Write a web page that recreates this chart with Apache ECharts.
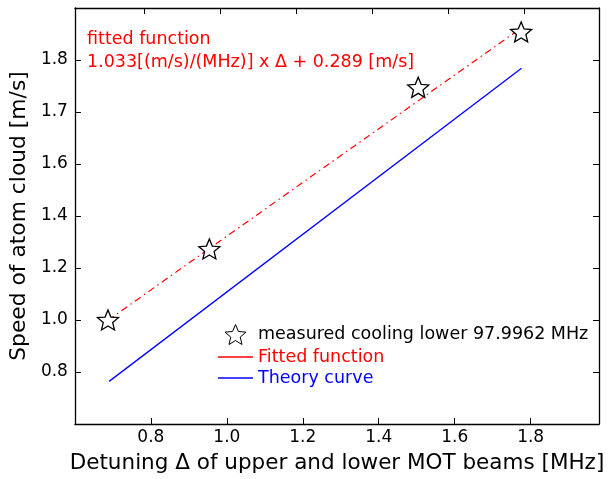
<!DOCTYPE html>
<html><head><meta charset="utf-8">
<script src="https://cdn.jsdelivr.net/npm/echarts@6/dist/echarts.min.js"></script>
<style>html,body{margin:0;padding:0;background:#fff}#c{width:608px;height:479px}</style>
</head><body><div id="c"></div>
<script>
// ---- data ----
const measX = [0.687, 0.954, 1.504, 1.775];
const measY = [1.000, 1.273, 1.895, 2.108];
const fitX = [0.687, 1.775];
const fitY = [0.999, 2.123];
const theoryX = [0.690, 1.776];
const theoryY = [0.764, 1.968];
const yTickValues = [0.8, 1.0, 1.2, 1.4, 1.6, 1.8, 2.0];
const yTickLabels = ['0.8', '1.0', '1.2', '1.4', '1.6', '1.7', '1.8'];
const topTickValues = [0.783, 0.983, 1.183, 1.383, 1.583, 1.783];
const annotation = ['fitted function', '1.033[(m/s)/(MHz)] x \u0394 + 0.289 [m/s]'];

const F = 'DejaVu Sans';
const STAR = 'path://M0,-10 L2.645,-3.641 L9.511,-3.09 L4.28,1.391 L5.878,8.09 L0,4.5 L-5.878,8.09 L-4.28,1.391 L-9.511,-3.09 L-2.645,-3.641 Z';
const LINEICON = 'path://M0,0 L35,0 L35,1.4 L0,1.4 Z';
const zip = (a, b) => a.map((v, i) => [v, b[i]]);

const axLine = {show: true, lineStyle: {color: '#000', width: 1.3}};
const chart = echarts.init(document.getElementById('c'), null, {renderer: 'canvas'});
chart.setOption({
  animation: false,
  backgroundColor: '#fff',
  textStyle: {fontFamily: F},
  grid: {left: 74, top: 8, right: 9, bottom: 52, containLabel: false},
  title: {
    text: annotation.join('\n'), left: 82, top: 23,
    textStyle: {fontFamily: F, fontSize: 17.5, fontWeight: 'normal', color: '#ff0000', lineHeight: 23}
  },
  legend: {
    orient: 'vertical', left: 213, top: 319, itemWidth: 35, itemHeight: 20, itemGap: 3,
    textStyle: {fontFamily: F, fontSize: 17.5},
    data: [
      {name: 'measured cooling lower 97.9962 MHz', icon: STAR, textStyle: {color: '#000'},
        itemStyle: {color: '#fff', borderColor: '#000', borderWidth: 1}},
      {name: 'Fitted function', icon: LINEICON, textStyle: {color: '#ff0000'}, itemStyle: {color: '#ff0000', borderWidth: 0}},
      {name: 'Theory curve', icon: LINEICON, textStyle: {color: '#0000ff'}, itemStyle: {color: '#0000ff', borderWidth: 0}}
    ]
  },
  xAxis: [{
    type: 'value', min: 0.6, max: 1.98, interval: 0.2, position: 'bottom',
    name: 'Detuning \u0394 of upper and lower MOT beams [MHz]', nameLocation: 'middle', nameGap: 28,
    nameTextStyle: {fontFamily: F, fontSize: 21.5, color: '#000'},
    axisLine: axLine, splitLine: {show: false},
    axisTick: {show: true, inside: true, length: 6, lineStyle: {color: '#000', width: 1}},
    axisLabel: {fontFamily: F, fontSize: 17, color: '#000', margin: 5, showMinLabel: false, showMaxLabel: false,
      formatter: v => v.toFixed(1)}
  }, {
    type: 'value', min: 0.6, max: 1.98, position: 'top',
    axisLine: axLine, splitLine: {show: false},
    axisTick: {show: true, inside: true, length: 6, customValues: topTickValues, lineStyle: {color: '#000', width: 1}},
    axisLabel: {show: false}
  }],
  yAxis: [{
    type: 'value', min: 0.6, max: 2.2, interval: 0.2, position: 'left',
    name: 'Speed of atom cloud [m/s]', nameLocation: 'middle', nameGap: 42,
    nameTextStyle: {fontFamily: F, fontSize: 21.8, color: '#000'},
    axisLine: axLine, splitLine: {show: false},
    axisTick: {show: true, inside: true, length: 6, lineStyle: {color: '#000', width: 1}},
    axisLabel: {fontFamily: F, fontSize: 17, color: '#000', margin: 7, showMinLabel: false, showMaxLabel: false,
      formatter: v => { const i = yTickValues.findIndex(t => Math.abs(t - v) < 1e-6); return i >= 0 ? yTickLabels[i] : ''; }}
  }, {
    type: 'value', min: 0.6, max: 2.2, interval: 0.2, position: 'right',
    axisLine: axLine, splitLine: {show: false},
    axisTick: {show: true, inside: true, length: 6, lineStyle: {color: '#000', width: 1}},
    axisLabel: {show: false}
  }],
  series: [{
    name: 'Theory curve', type: 'line', data: zip(theoryX, theoryY), symbol: 'none', z: 2,
    lineStyle: {color: '#0000ff', width: 1.3}, itemStyle: {color: '#0000ff'}
  }, {
    name: 'Fitted function', type: 'line', data: zip(fitX, fitY), symbol: 'none', z: 2,
    lineStyle: {color: '#ff0000', width: 1.2, type: [7, 4, 1.5, 4]}, itemStyle: {color: '#ff0000'}
  }, {
    name: 'measured cooling lower 97.9962 MHz', type: 'scatter', data: zip(measX, measY), z: 5,
    symbol: STAR, symbolSize: 21, symbolKeepAspect: true,
    itemStyle: {color: '#ffffff', borderColor: '#000', borderWidth: 1.3, opacity: 1}
  }]
});
</script></body></html>
